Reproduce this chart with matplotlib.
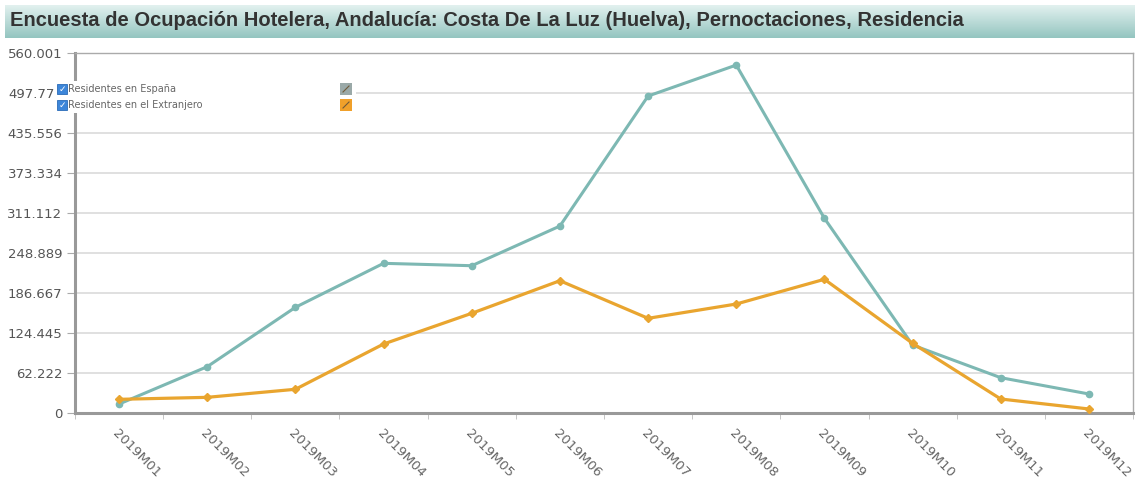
import numpy as np
import matplotlib
matplotlib.use("Agg")
import matplotlib.pyplot as plt
from matplotlib.colors import LinearSegmentedColormap
from matplotlib.patches import Rectangle
from matplotlib.transforms import ScaledTranslation

# datos (pernoctaciones por mes)
meses = ["2019M01", "2019M02", "2019M03", "2019M04", "2019M05", "2019M06",
         "2019M07", "2019M08", "2019M09", "2019M10", "2019M11", "2019M12"]
espana = [14400, 72400, 164600, 232900, 229200, 290800,
          492700, 540800, 302800, 106000, 55300, 30000]
extranjero = [21700, 24800, 37300, 107600, 155300, 205900,
              147500, 169700, 208100, 108700, 22200, 6700]
series_nombres = ["Residentes en España", "Residentes en el Extranjero"]
y_max = 560001

titulo = ("Encuesta de Ocupación Hotelera, Andalucía: Costa De La Luz (Huelva), "
          "Pernoctaciones, Residencia")

color_esp = "#7db8b3"
color_ext = "#e9a52f"

W, H = 1139, 492
fig = plt.figure(figsize=(W / 100, H / 100), dpi=100)
fig.patch.set_facecolor("white")


def fx(px):
    return px / W


def fy(py):
    return 1 - py / H


# barra del titulo con degradado
ban = fig.add_axes([fx(5), fy(38), fx(1130), 33 / H])
cmap = LinearSegmentedColormap.from_list("ban", ["#e2f1ef", "#94c5c0"])
grad = np.linspace(0, 1, 64).reshape(-1, 1)
ban.imshow(grad, aspect="auto", cmap=cmap, extent=[0, 1, 0, 1])
ban.set_axis_off()
fig.text(fx(10), fy(21), titulo, fontsize=14.5, fontweight="bold",
         family="Liberation Sans", color="#333333", va="center", ha="left")

# grafico principal
ax = fig.add_axes([fx(75), fy(413.3), fx(1133 - 75), (413.3 - 52.7) / H])
x = np.arange(len(meses))
ax.plot(x, espana, color=color_esp, lw=2.2, marker="o", ms=4.5, zorder=3)
ax.plot(x, extranjero, color=color_ext, lw=2.3, marker="D", ms=4, zorder=3)

ax.set_xlim(-0.5, len(meses) - 0.5)
ax.set_ylim(0, y_max)
yt = np.linspace(0, y_max, 10)
ylabels = [f"{int(round(v)):,}".replace(",", ".") for v in yt]
# en el original la leyenda tapa la ultima cifra de esta etiqueta
ylabels[8] = ylabels[8][:-1]
ax.set_yticks(yt)
ax.set_yticklabels(ylabels, fontsize=9.5, color="#555555")
ax.yaxis.grid(True, color="#dddddd", lw=1.3)
ax.set_axisbelow(True)

ax.set_xticks(x)
ax.set_xticklabels(meses, rotation=-45, ha="left", va="top",
                   rotation_mode="anchor", fontsize=9.5, color="#666666")
ax.set_xticks(np.arange(len(meses) + 1) - 0.5, minor=True)
ax.tick_params(axis="x", which="major", length=0, pad=10)
ax.tick_params(axis="x", which="minor", length=4, color="#bbbbbb")
ax.tick_params(axis="y", length=6, color="#aaaaaa", pad=3)

lab = ax.get_yticklabels()[8]
lab.set_transform(lab.get_transform() + ScaledTranslation(-8 / 100, 0, fig.dpi_scale_trans))

for s in ["top", "right"]:
    ax.spines[s].set_color("#aaaaaa")
    ax.spines[s].set_linewidth(1)
for s in ["left", "bottom"]:
    ax.spines[s].set_color("#999999")
    ax.spines[s].set_linewidth(2.2)

# leyenda con casillas
fig.patches.append(Rectangle((fx(56), fy(113)), fx(300), 32 / H,
                             transform=fig.transFigure, facecolor="white",
                             edgecolor="none", zorder=5))
swatch = ["#9aa9a8", "#f0a02a"]
for i, nombre in enumerate(series_nombres):
    yc = 89 + i * 16
    fig.patches.append(Rectangle((fx(57), fy(yc + 5)), fx(10), 10 / H,
                                 transform=fig.transFigure, facecolor="#3d86d9",
                                 edgecolor="#2a6bb8", lw=0.6, zorder=6))
    fig.text(fx(62), fy(yc), "✓", fontsize=6.5, color="white", fontweight="bold",
             ha="center", va="center", zorder=7)
    fig.text(fx(68), fy(yc), nombre, fontsize=7, color="#666666",
             ha="left", va="center", zorder=7)
    fig.patches.append(Rectangle((fx(340), fy(yc + 6)), fx(12), 12 / H,
                                 transform=fig.transFigure, facecolor=swatch[i],
                                 edgecolor="none", zorder=6))
    fig.lines.append(plt.Line2D([fx(343), fx(349)], [fy(yc + 3), fy(yc - 3)],
                                transform=fig.transFigure, color="#6f5a3a",
                                lw=0.8, zorder=7))

fig.savefig("out.png", dpi=100)
